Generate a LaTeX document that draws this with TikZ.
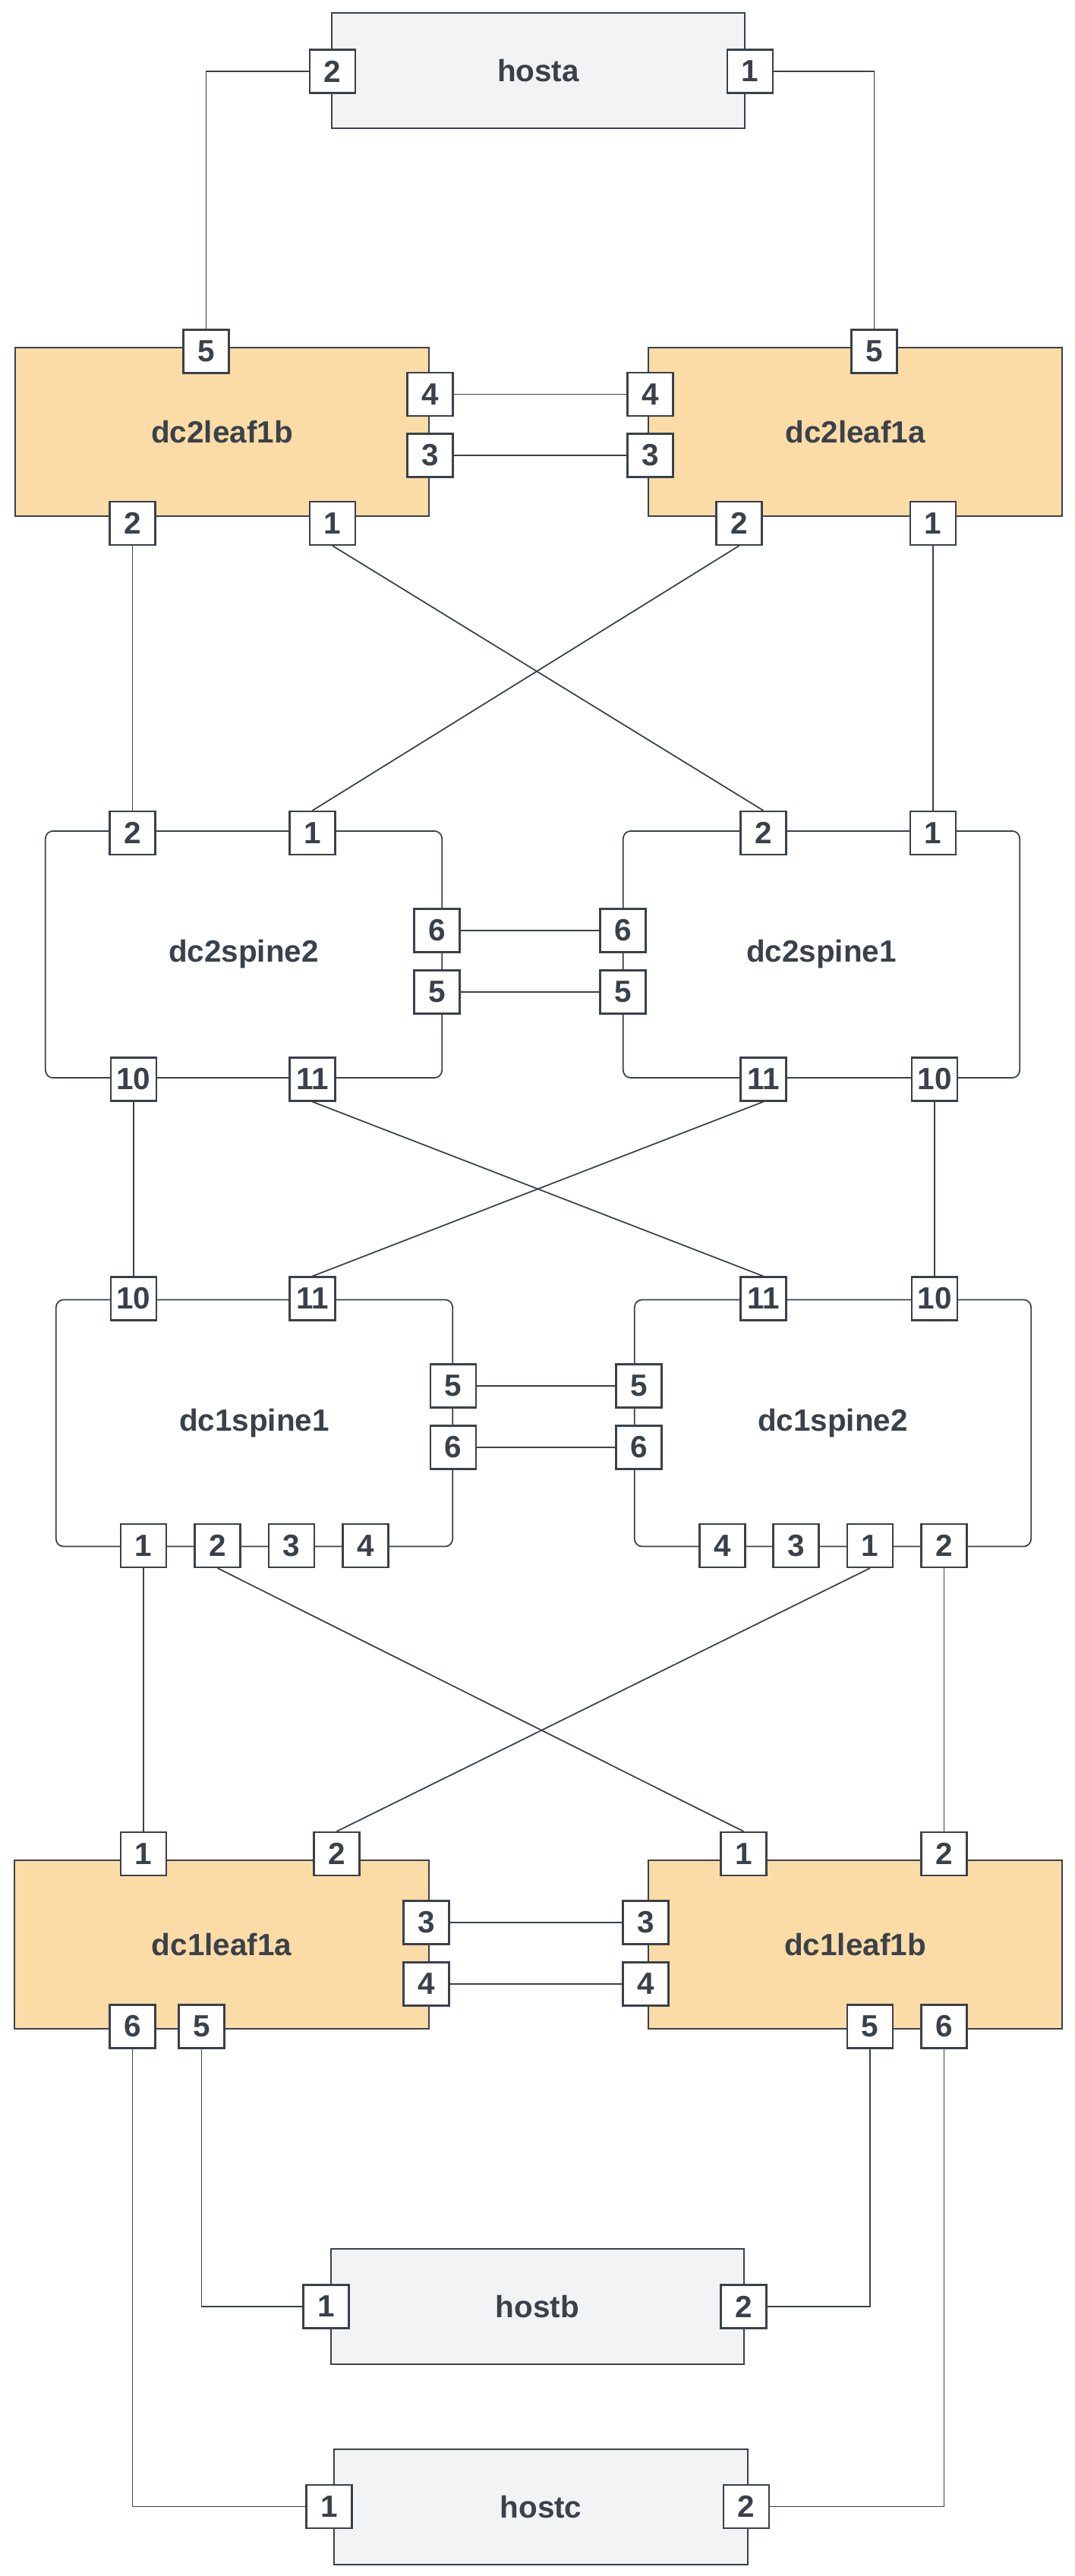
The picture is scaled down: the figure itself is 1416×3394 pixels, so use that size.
\documentclass[tikz,border=0pt]{standalone}
\usepackage{fontspec}
\setmainfont{Liberation Sans}
\definecolor{ink}{HTML}{3A414A}
\definecolor{leaffill}{HTML}{FCDCA6}
\definecolor{hostfill}{HTML}{F2F3F5}

\begin{document}
\begin{tikzpicture}[x=0.01cm,y=-0.01cm,line width=0.5pt,
        dev/.style={draw=ink,text=ink,inner sep=0pt,font=\bfseries\fontsize{11.5}{14}\selectfont},
        host/.style={dev,fill=hostfill,minimum width=5.44cm,minimum height=1.52cm},
        leaf/.style={dev,fill=leaffill,minimum width=5.45cm,minimum height=2.22cm},
        spine/.style={dev,fill=white,rounded corners=0.1cm,minimum width=5.22cm,minimum height=3.25cm},
        port/.style={draw=ink,fill=white,text=ink,line width=0.6pt,inner sep=0pt,minimum width=0.6cm,minimum height=0.57cm,font=\bfseries\fontsize{11.5}{14}\selectfont},
        link/.style={draw=ink}]
        \useasboundingbox (0,0) rectangle (1416,3394);

        % devices
        \node[host] (hosta) at (709,93) {hosta};
        \node[leaf] (dc2leaf1b) at (292.5,569) {dc2leaf1b};
        \node[leaf] (dc2leaf1a) at (1126.5,569) {dc2leaf1a};
        \node[spine] (dc2spine2) at (321,1257.5) {dc2spine2};
        \node[spine] (dc2spine1) at (1082,1257.5) {dc2spine1};
        \node[spine] (dc1spine1) at (335,1875) {dc1spine1};
        \node[spine] (dc1spine2) at (1097,1875) {dc1spine2};
        \node[leaf] (dc1leaf1a) at (292,2562) {dc1leaf1a};
        \node[leaf] (dc1leaf1b) at (1126.5,2562) {dc1leaf1b};
        \node[host] (hostb) at (708,3039) {hostb};
        \node[host] (hostc) at (712.5,3303) {hostc};

        % ports
        \node[port] (hosta-2) at (438,94) {2};
        \node[port] (hosta-1) at (988,94) {1};

        \node[port] (dc2leaf1b-5) at (271.5,463) {5};
        \node[port] (dc2leaf1b-4) at (566.5,519.5) {4};
        \node[port] (dc2leaf1b-3) at (566.5,600) {3};
        \node[port] (dc2leaf1b-2) at (174.5,689.5) {2};
        \node[port] (dc2leaf1b-1) at (438,689.5) {1};

        \node[port] (dc2leaf1a-5) at (1151.5,463) {5};
        \node[port] (dc2leaf1a-4) at (856.5,519.5) {4};
        \node[port] (dc2leaf1a-3) at (856.5,600) {3};
        \node[port] (dc2leaf1a-2) at (973.5,689.5) {2};
        \node[port] (dc2leaf1a-1) at (1229,689.5) {1};

        \node[port] (dc2spine2-2) at (174.5,1097.5) {2};
        \node[port] (dc2spine2-1) at (411.5,1097.5) {1};
        \node[port] (dc2spine2-6) at (575.5,1226) {6};
        \node[port] (dc2spine2-5) at (575.5,1307) {5};
        \node[port] (dc2spine2-10) at (176,1422) {10};
        \node[port] (dc2spine2-11) at (411.5,1422) {11};

        \node[port] (dc2spine1-2) at (1005.5,1097.5) {2};
        \node[port] (dc2spine1-1) at (1229,1097.5) {1};
        \node[port] (dc2spine1-6) at (820.5,1226) {6};
        \node[port] (dc2spine1-5) at (820.5,1307) {5};
        \node[port] (dc2spine1-11) at (1005.5,1422) {11};
        \node[port] (dc2spine1-10) at (1231,1422) {10};

        \node[port] (dc1spine1-10) at (176,1711) {10};
        \node[port] (dc1spine1-11) at (411.5,1711) {11};
        \node[port] (dc1spine1-5) at (597,1826) {5};
        \node[port] (dc1spine1-6) at (597,1907) {6};
        \node[port] (dc1spine1-1) at (189,2036.5) {1};
        \node[port] (dc1spine1-2) at (286.5,2036.5) {2};
        \node[port] (dc1spine1-3) at (384,2036.5) {3};
        \node[port] (dc1spine1-4) at (481.5,2036.5) {4};

        \node[port] (dc1spine2-11) at (1005.5,1711) {11};
        \node[port] (dc1spine2-10) at (1231,1711) {10};
        \node[port] (dc1spine2-5) at (841.5,1826) {5};
        \node[port] (dc1spine2-6) at (841.5,1907) {6};
        \node[port] (dc1spine2-4) at (951.5,2036.5) {4};
        \node[port] (dc1spine2-3) at (1048.5,2036.5) {3};
        \node[port] (dc1spine2-1) at (1146,2036.5) {1};
        \node[port] (dc1spine2-2) at (1243.5,2036.5) {2};

        \node[port] (dc1leaf1a-1) at (189,2442.5) {1};
        \node[port] (dc1leaf1a-2) at (443.5,2442.5) {2};
        \node[port] (dc1leaf1a-3) at (561.5,2533) {3};
        \node[port] (dc1leaf1a-4) at (561.5,2614) {4};
        \node[port] (dc1leaf1a-6) at (174.5,2670) {6};
        \node[port] (dc1leaf1a-5) at (265.5,2670) {5};

        \node[port] (dc1leaf1b-1) at (979.5,2442.5) {1};
        \node[port] (dc1leaf1b-2) at (1243.5,2442.5) {2};
        \node[port] (dc1leaf1b-3) at (850.5,2533) {3};
        \node[port] (dc1leaf1b-4) at (850.5,2614) {4};
        \node[port] (dc1leaf1b-5) at (1146,2670) {5};
        \node[port] (dc1leaf1b-6) at (1243.5,2670) {6};

        \node[port] (hostb-1) at (429.5,3039) {1};
        \node[port] (hostb-2) at (979.5,3039) {2};
        \node[port] (hostc-1) at (433.5,3302.5) {1};
        \node[port] (hostc-2) at (983,3302.5) {2};

        % links
        \draw[link] (hosta-2) -| (dc2leaf1b-5);
        \draw[link] (hosta-1) -| (dc2leaf1a-5);
        \draw[link] (dc2leaf1b-4) -- (dc2leaf1a-4);
        \draw[link] (dc2leaf1b-3) -- (dc2leaf1a-3);

        \draw[link] (dc2leaf1b-2) -- (dc2spine2-2);
        \draw[link] (dc2leaf1b-1.south) -- (dc2spine1-2.north);
        \draw[link] (dc2leaf1a-2.south) -- (dc2spine2-1.north);
        \draw[link] (dc2leaf1a-1) -- (dc2spine1-1);
        \draw[link] (dc2spine2-6) -- (dc2spine1-6);
        \draw[link] (dc2spine2-5) -- (dc2spine1-5);

        \draw[link] (dc2spine2-10) -- (dc1spine1-10);
        \draw[link] (dc2spine2-11.south) -- (dc1spine2-11.north);
        \draw[link] (dc2spine1-11.south) -- (dc1spine1-11.north);
        \draw[link] (dc2spine1-10) -- (dc1spine2-10);
        \draw[link] (dc1spine1-5) -- (dc1spine2-5);
        \draw[link] (dc1spine1-6) -- (dc1spine2-6);

        \draw[link] (dc1spine1-1) -- (dc1leaf1a-1);
        \draw[link] (dc1spine1-2.south) -- (dc1leaf1b-1.north);
        \draw[link] (dc1spine2-1.south) -- (dc1leaf1a-2.north);
        \draw[link] (dc1spine2-2) -- (dc1leaf1b-2);
        \draw[link] (dc1leaf1a-3) -- (dc1leaf1b-3);
        \draw[link] (dc1leaf1a-4) -- (dc1leaf1b-4);

        \draw[link] (dc1leaf1a-5) |- (hostb-1);
        \draw[link] (dc1leaf1b-5) |- (hostb-2);
        \draw[link] (dc1leaf1a-6) |- (hostc-1);
        \draw[link] (dc1leaf1b-6) |- (hostc-2);
    \end{tikzpicture}
\end{document}
